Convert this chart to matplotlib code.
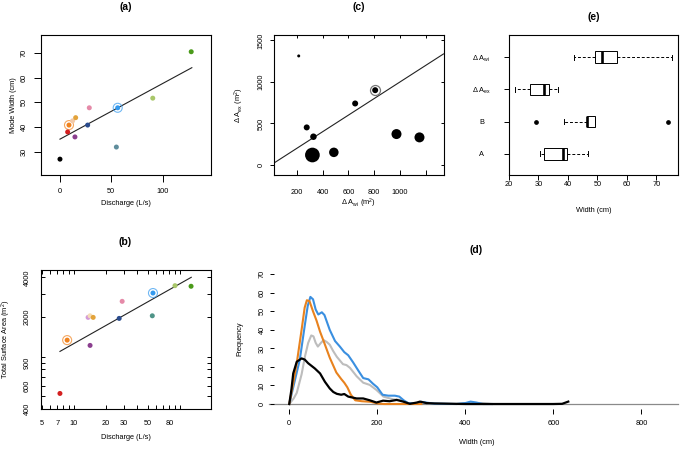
import numpy as np
import matplotlib
matplotlib.use("Agg")
import matplotlib.pyplot as plt

plt.rcParams.update({
    "font.family": ["Liberation Sans", "DejaVu Sans"],
    "font.size": 5.3,
    "mathtext.default": "regular",
    "axes.linewidth": 0.8,
})

W, H = 691, 451

# ============================================================
# Data
# ============================================================
# (a) discharge vs mode width
q_a = [0, 7.5, 8.8, 12.3, 15.3, 14.6, 28.6, 27.0, 56.3, 55.0, 90.5, 128.0]
w_a = [27.0, 38.0, 40.8, 42.5, 43.8, 36.0, 47.8, 40.8, 47.8, 31.9, 51.7, 70.5]
col_a = ["#000000", "#d42020", "#f0821e", "#f2c9a8", "#e3a33a", "#8b3f8f",
         "#e58aa8", "#2a4b8d", "#3399ee", "#5f8d9c", "#a9c76a", "#4a9a1a"]
ring_a = [2, 8]
fit_a = (35.1, 0.225)          # intercept, slope
fit_a_range = (0, 128.6)

# (b) discharge vs total surface area (log-log)
q_b = [7.44, 8.7, 14.3, 13.7, 14.3, 15.3, 26.9, 28.7, 56.0, 55.2, 90.3, 128.0]
a_b = [525, 1334, 1216, 1985, 2041, 1985, 1950, 2628, 3039, 2041, 3456, 3420]
col_b = ["#d42020", "#f0821e", "#8b3f8f", "#d39ad8", "#f5dcb5", "#e3a33a",
         "#2a4b8d", "#e58aa8", "#3399ee", "#4f9488", "#a9c76a", "#4a9a1a"]
ring_b = [1, 8]
fit_b = (2.6431, 0.4547)       # log10 intercept, slope
fit_b_range = (7.44, 128.5)

# (c) delta A_wi vs delta A_ex
awi = [215, 277, 329, 321, 487, 652, 807, 972, 1150]
aex = [1312, 452, 340, 120, 152, 740, 900, 372, 332]
c_weight = [3, 6, 6.5, 14.7, 9.5, 6, 6, 10, 10]
ring_c = [6]

# (d) width frequency curves
blue_x = [0, 12, 24, 35, 42, 48, 54, 60, 66, 74, 80, 92, 104, 115, 125, 134, 145,
          157, 168, 180, 190, 200, 212, 225, 240, 250, 260, 270, 290, 300, 310,
          330, 380, 400, 412, 425, 440, 460]
blue_y = [0, 12, 24, 42, 53, 57.8, 56.5, 51, 48.3, 49.5, 48, 40, 34, 31, 28, 26.3,
          22.5, 18, 14, 13.3, 11, 9, 5, 4.5, 4.5, 4, 2, 0.5, 0.3, 1.2, 0.8, 0.2,
          0, 0.5, 1.3, 0.8, 0, 0]
orange_x = [0, 8, 17, 28, 35, 40, 46, 54, 62, 70, 78, 92, 107, 118, 125, 132,
            140, 150, 165, 185, 200, 215, 260, 300]
orange_y = [0, 10, 22, 40, 52, 56, 55.5, 50, 45, 39, 34, 25, 17, 13.5, 11.5, 9,
            5, 2, 1.5, 1.2, 0.3, 0, 0, 0]
gray_x = [0, 10, 17, 28, 36, 43, 50, 55, 60, 65, 72, 78, 85, 92, 100, 108, 122,
          130, 138, 153, 168, 183, 198, 214, 236, 252, 267, 280, 300, 320, 380,
          410, 440, 460]
gray_y = [0, 3, 6, 16, 26, 33, 37, 36.5, 33, 31, 33, 34.5, 33.5, 32, 28.5, 25.5,
          21.5, 21, 19.5, 15, 11.5, 10.3, 7.6, 4, 2.5, 2.2, 0.7, 0.2, 1.0, 0.2,
          0, 0.6, 0.5, 0]
black_x = [0, 5, 9, 17, 28, 35, 43, 58, 70, 81, 92, 100, 108, 118, 125, 134, 153,
           168, 183, 198, 213, 228, 244, 259, 274, 290, 297, 312, 330, 400, 500,
           600, 620, 634]
black_y = [0, 8, 16.5, 22.8, 24.6, 24, 22, 19.2, 16.5, 12, 8.4, 6.5, 5.5, 5, 5.4,
           4, 3, 3, 2, 0.8, 1.8, 1.5, 2.2, 1.3, 0.1, 0.8, 1.3, 0.5, 0.3, 0, 0,
           0, 0.1, 1.3]

# (e) width boxplots
e_labels = ["A", "B", "Δ A$_{ex}$", "Δ A$_{wi}$"]
e_whislo = [30.6, 38.5, 21.9, 41.9]
e_q1 = [32.0, 46.4, 27.0, 49.3]
e_med = [38.2, 46.6, 32.0, 51.7]
e_q3 = [39.8, 49.3, 33.7, 56.6]
e_whishi = [46.8, 49.3, 36.6, 75.3]
e_fliers = [[], [29.2, 73.9], [], []]


# ============================================================
# Helpers
# ============================================================
def px_axes(fig, l, t, r, b):
    return fig.add_axes([l / W, 1 - b / H, (r - l) / W, (b - t) / H])


def px_title(fig, x, y, s):
    fig.text(x / W, 1 - y / H, s, ha="center", va="center",
             fontsize=7.5, fontweight="bold")


def rotate_yticks(ax):
    for t in ax.get_yticklabels():
        t.set_rotation(90)
        t.set_va("center")
        t.set_ha("right")


def dot_size(d_px):
    return (d_px * 0.72) ** 2


fig = plt.figure(figsize=(W / 100, H / 100), dpi=100)

# ============================================================
# (a)
# ============================================================
ax = px_axes(fig, 41, 34.7, 210.7, 174.7)
ax.set_xlim(-18.5, 147)
ax.set_ylim(20.7, 77.4)
xs = np.array(fit_a_range)
ax.plot(xs, fit_a[0] + fit_a[1] * xs, color="#222222", lw=0.8, zorder=1)
for i in ring_a:
    ax.scatter(q_a[i], w_a[i], s=dot_size(9), facecolors="none",
               edgecolors=col_a[i], linewidths=0.8, alpha=0.7, zorder=2)
ax.scatter(q_a, w_a, s=dot_size(5), c=col_a, linewidths=0, zorder=3)
ax.set_xticks([0, 50, 100])
ax.set_yticks([30, 40, 50, 60, 70])
ax.tick_params(direction="out", length=5, width=0.7, pad=4.3)
ax.tick_params(axis="y", pad=4.5)
rotate_yticks(ax)
ax.set_xlabel("Discharge (L/s)", labelpad=4)
ax.set_ylabel("Mode Width (cm)", labelpad=3)
px_title(fig, 126, 7, "(a)")

# ============================================================
# (b)
# ============================================================
ax = px_axes(fig, 40.7, 270, 210.7, 409.3)
ax.set_xscale("log")
ax.set_yscale("log")
ax.set_xlim(4.9, 196)
ax.set_ylim(398, 4545)
xs = np.array(fit_b_range)
ax.plot(xs, 10 ** (fit_b[0] + fit_b[1] * np.log10(xs)), color="#222222",
        lw=0.8, zorder=1)
for i in ring_b:
    ax.scatter(q_b[i], a_b[i], s=dot_size(9), facecolors="none",
               edgecolors=col_b[i], linewidths=0.8, alpha=0.7, zorder=2)
ax.scatter(q_b, a_b, s=dot_size(5), c=col_b, linewidths=0, zorder=3)
xt = [5, 6, 7, 8, 9, 10, 20, 30, 40, 50, 60, 70, 80, 90, 100]
xl = {5: "5", 7: "7", 10: "10", 20: "20", 30: "30", 50: "50", 80: "80"}
yt = [400, 500, 600, 700, 800, 900, 1000, 2000, 3000, 4000]
yl = {400: "400", 600: "600", 900: "900", 2000: "2000", 4000: "4000"}
ax.xaxis.set_minor_locator(matplotlib.ticker.NullLocator())
ax.yaxis.set_minor_locator(matplotlib.ticker.NullLocator())
ax.set_xticks(xt, [xl.get(v, "") for v in xt])
ax.set_yticks(yt, [yl.get(v, "") for v in yt])
ax.tick_params(direction="in", length=3.1, width=0.7, top=True, right=True)
ax.tick_params(axis="x", pad=8)
ax.tick_params(axis="y", pad=7)
rotate_yticks(ax)
ax.set_xlabel("Discharge (L/s)", labelpad=5)
ax.set_ylabel("Total Surface Area (m$^{2}$)", labelpad=8)
px_title(fig, 125, 241.7, "(b)")

# ============================================================
# (c)
# ============================================================
ax = px_axes(fig, 274.3, 35, 443.5, 174.7)
ax.set_xlim(26, 1336)
ax.set_ylim(-117, 1564)
ax.axline((0, 0), slope=1, color="#222222", lw=0.8, zorder=1)
for i in ring_c:
    ax.scatter(awi[i], aex[i], s=dot_size(10), facecolors="white",
               edgecolors="#777777", linewidths=0.9, zorder=2)
ax.scatter(awi, aex, s=[dot_size(d) for d in c_weight], c="black",
           linewidths=0, zorder=3)
ax.set_xticks([200, 400, 600, 800, 1000, 1200],
              ["200", "400", "600", "800", "1000", ""])
ax.set_yticks([0, 500, 1000, 1500])
ax.tick_params(axis="x", direction="in", length=3.6, width=0.7, pad=10,
               top=True)
ax.tick_params(axis="y", direction="out", length=3.1, width=0.7, pad=4)
ax.tick_params(axis="y", which="major", right=True)
for t in ax.yaxis.get_major_ticks():
    t.tick2line.set_marker(matplotlib.lines.TICKLEFT)
    t.tick2line.set_markersize(2.5)
for t in ax.xaxis.get_major_ticks():
    t.tick2line.set_markersize(2.5)
rotate_yticks(ax)
ax.set_xlabel("Δ A$_{wi}$ (m$^{2}$)", labelpad=1)
ax.set_ylabel("Δ A$_{ex}$ (m$^{2}$)", labelpad=8)
px_title(fig, 359, 7, "(c)")

# ============================================================
# (d)
# ============================================================
ax = px_axes(fig, 274.3, 269.1, 678.3, 409.2)
ax.set_xlim(-34, 884)
ax.set_ylim(-2.8, 72.8)
for s in ax.spines.values():
    s.set_visible(False)
ax.plot([-46, 884], [0, 0], color="#8a8a8a", lw=0.9, clip_on=False, zorder=1)
ax.plot(gray_x, gray_y, color="#bdbdbd", lw=1.5, zorder=2)
ax.plot(blue_x, blue_y, color="#3a8fe0", lw=1.5, zorder=3)
ax.plot(orange_x, orange_y, color="#e8821e", lw=1.5, zorder=4)
ax.plot(black_x, black_y, color="black", lw=1.6, zorder=5)
ax.set_xticks([0, 200, 400, 600, 800])
ax.set_yticks([0, 10, 20, 30, 40, 50, 60, 70])
ax.tick_params(axis="x", direction="out", length=3.6, width=0.7, pad=4.3)
ax.tick_params(axis="y", direction="out", length=3.1, width=0.7, pad=3.2)
rotate_yticks(ax)
ax.set_xlabel("Width (cm)", labelpad=8.5)
ax.set_ylabel("Frequency", labelpad=11)
px_title(fig, 476.5, 250.3, "(d)")

# ============================================================
# (e)
# ============================================================
ax = px_axes(fig, 508.7, 35, 678.3, 175)
stats = []
for k in range(len(e_labels)):
    stats.append({
        "whislo": e_whislo[k], "q1": e_q1[k], "med": e_med[k],
        "q3": e_q3[k], "whishi": e_whishi[k], "fliers": e_fliers[k],
    })
ax.bxp(stats, positions=[1, 2, 3, 4], vert=False, widths=0.36,
       capwidths=0.16, patch_artist=True,
       boxprops=dict(facecolor="white", edgecolor="black", linewidth=0.7),
       medianprops=dict(color="black", linewidth=1.9),
       whiskerprops=dict(color="black", linewidth=0.7, linestyle=(0, (3, 2))),
       capprops=dict(color="black", linewidth=0.7),
       flierprops=dict(marker="o", markerfacecolor="black",
                       markeredgecolor="black", markersize=2.4))
ax.set_xlim(19.9, 77.4)
ax.set_ylim(0.34, 4.69)
ax.set_xticks([20, 30, 40, 50, 60, 70], ["20", "30", "40", "50", "60", "70"])
ax.set_yticks([1, 2, 3, 4], e_labels)
ax.tick_params(axis="x", direction="out", length=3.6, width=0.7, pad=0.6)
ax.tick_params(axis="y", direction="out", length=3.8, width=0.7, pad=15.7)
for t in ax.get_yticklabels():
    t.set_ha("center")
ax.set_xlabel("Width (cm)", labelpad=14)
px_title(fig, 593.5, 17.3, "(e)")

fig.savefig("out.png", dpi=100)
